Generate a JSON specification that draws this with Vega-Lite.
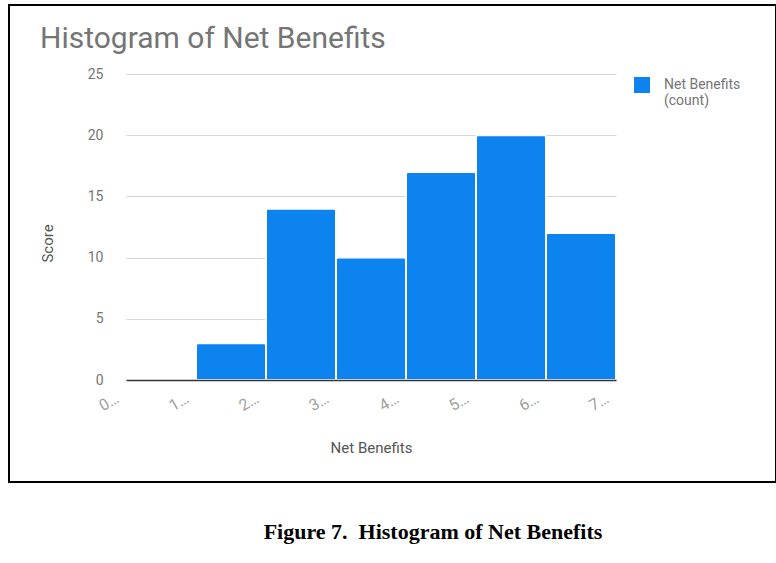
{
  "$schema": "https://vega.github.io/schema/vega-lite/v6.json",
  "background": "white",
  "padding": {"left": 8, "top": 4, "right": 0, "bottom": 0},
  "spacing": 0,
  "config": {
    "view": {"stroke": "#000000", "strokeWidth": 2},
    "font": "Roboto"
  },
  "vconcat": [
    {
      "width": 767,
      "height": 477,
      "title": {
        "text": "Histogram of Net Benefits",
        "anchor": "start",
        "frame": "group",
        "dx": 31,
        "offset": -73,
        "baseline": "alphabetic",
        "font": "Roboto",
        "fontSize": 30,
        "fontWeight": "normal",
        "color": "#757575"
      },
      "data": {
        "values": [
          {"bin_start": 0, "bin_end": 1, "count": 0, "series": "Net Benefits (count)"},
          {"bin_start": 1, "bin_end": 2, "count": 3, "series": "Net Benefits (count)"},
          {"bin_start": 2, "bin_end": 3, "count": 14, "series": "Net Benefits (count)"},
          {"bin_start": 3, "bin_end": 4, "count": 10, "series": "Net Benefits (count)"},
          {"bin_start": 4, "bin_end": 5, "count": 17, "series": "Net Benefits (count)"},
          {"bin_start": 5, "bin_end": 6, "count": 20, "series": "Net Benefits (count)"},
          {"bin_start": 6, "bin_end": 7, "count": 12, "series": "Net Benefits (count)"}
        ]
      },
      "mark": {
        "type": "bar",
        "stroke": "#ffffff",
        "strokeWidth": 2,
        "cornerRadiusTopLeft": 2,
        "cornerRadiusTopRight": 2
      },
      "encoding": {
        "x": {
          "field": "bin_start",
          "type": "quantitative",
          "scale": {"domain": [0, 7], "range": [117, 607], "nice": false, "zero": false, "padding": 0},
          "axis": {
            "title": "Net Benefits",
            "offset": -102,
            "zindex": 1,
            "values": [0, 1, 2, 3, 4, 5, 6, 7],
            "labelExpr": "datum.value + '…'",
            "labelAngle": -30,
            "labelAlign": "right",
            "labelBaseline": "top",
            "labelPadding": 10,
            "labelOffset": -13,
            "labelFont": "Roboto",
            "labelFontSize": 16,
            "labelColor": "#a0a0a0",
            "labelFlush": false,
            "labelOverlap": false,
            "ticks": false,
            "grid": false,
            "domainColor": "#333333",
            "domainWidth": 1.5,
            "titleFont": "Roboto",
            "titleFontSize": 15,
            "titleFontWeight": "normal",
            "titleColor": "#555555",
            "titleBaseline": "middle",
            "titleY": 67
          }
        },
        "x2": {"field": "bin_end"},
        "y": {
          "field": "count",
          "type": "quantitative",
          "stack": null,
          "scale": {"domain": [0, 25], "range": [375, 69], "nice": false, "padding": 0},
          "axis": {
            "title": "Score",
            "offset": -110,
            "values": [0, 5, 10, 15, 20, 25],
            "domain": false,
            "ticks": false,
            "labelPadding": 16,
            "labelFont": "Roboto",
            "labelFontSize": 14,
            "labelColor": "#757575",
            "gridColor": "#d6d6d6",
            "gridWidth": 1,
            "titleFont": "Roboto",
            "titleFontSize": 15,
            "titleFontWeight": "normal",
            "titleColor": "#555555",
            "titleX": -72,
            "titleY": 238,
            "titleBaseline": "middle",
            "titleAlign": "center"
          }
        },
        "y2": {"datum": 0},
        "color": {
          "field": "series",
          "type": "nominal",
          "scale": {"range": ["#0d83f0"]},
          "legend": {
            "title": null,
            "orient": "none",
            "legendX": 625,
            "legendY": 72,
            "symbolType": "square",
            "symbolSize": 256,
            "symbolStrokeWidth": 0,
            "labelExpr": "['Net Benefits', '(count)']",
            "labelFont": "Roboto",
            "labelFontSize": 14,
            "labelColor": "#757575",
            "labelBaseline": "middle",
            "labelOffset": 14
          }
        }
      }
    },
    {
      "width": 848,
      "height": 97,
      "data": {"values": [{"caption": "Figure 7.\u00a0 Histogram of Net Benefits"}]},
      "mark": {
        "type": "text",
        "font": "Liberation Serif",
        "fontSize": 22,
        "fontWeight": "bold",
        "color": "#000000",
        "align": "center",
        "baseline": "middle"
      },
      "encoding": {
        "text": {"field": "caption"}
      }
    }
  ]
}
